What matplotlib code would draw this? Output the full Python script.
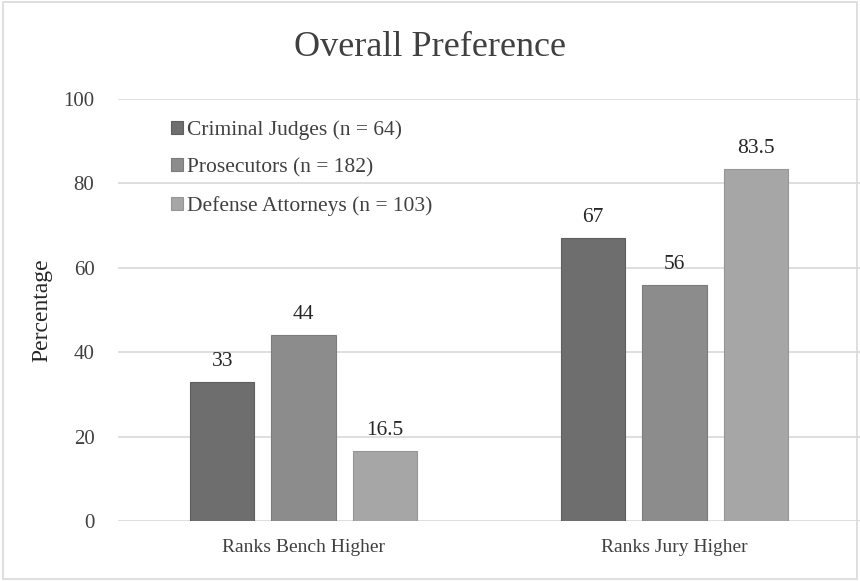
import matplotlib
matplotlib.use("Agg")
import matplotlib.pyplot as plt
from matplotlib.patches import Rectangle
import numpy as np

# data
categories = ["Ranks Bench Higher", "Ranks Jury Higher"]
series = ["Criminal Judges (n = 64)", "Prosecutors (n = 182)", "Defense Attorneys (n = 103)"]
judges = [33, 67]
prosecutors = [44, 56]
defense = [16.5, 83.5]
labels_judges = ["33", "67"]
labels_prosecutors = ["44", "56"]
labels_defense = ["16.5", "83.5"]

colors = ["#6e6e6e", "#8c8c8c", "#a6a6a6"]
edges = ["#5e5e5e", "#7c7c7c", "#969696"]

plt.rcParams['font.family'] = ['Liberation Serif', 'DejaVu Serif']

fig = plt.figure(figsize=(8.6, 5.81), dpi=100)
ax = fig.add_axes([118 / 860, 60 / 581, 742 / 860, 422 / 581])

x = np.arange(len(categories))
width = 0.173
step = 0.219

for i, (vals, labs) in enumerate([(judges, labels_judges),
                                  (prosecutors, labels_prosecutors),
                                  (defense, labels_defense)]):
    pos = x + (i - 1) * step
    ax.bar(pos, vals, width, color=colors[i], edgecolor=edges[i],
           linewidth=0.8, label=series[i], zorder=3)
    for p, v, t in zip(pos, vals, labs):
        ax.text(p, v + 2.6, t, ha='center', va='bottom', fontsize=15.5,
                color='#262626')

ax.set_xlim(-0.5, 1.5)
ax.set_ylim(0, 100)
ax.set_yticks(range(0, 101, 20))
ax.set_xticks(x)
ax.set_xticklabels(categories, fontsize=14, color='#404040')
ax.tick_params(axis='y', labelsize=15, colors='#404040', length=0, pad=17)
ax.tick_params(axis='x', length=0, pad=13)
ax.grid(axis='y', color='#d9d9d9', linewidth=1.2, zorder=0)
ax.set_axisbelow(True)
for s in ax.spines.values():
    s.set_visible(False)

ax.set_ylabel("Percentage", fontsize=17, color='#262626', labelpad=8)

fig.text(0.5, 0.919, "Overall Preference", ha='center', va='center',
         fontsize=26, color='#404040')

leg = ax.legend(loc='upper left', bbox_to_anchor=(0.06, 0.97), frameon=False,
                fontsize=15.5, handlelength=0.55, handleheight=0.55,
                handletextpad=0.2, labelspacing=0.85, borderaxespad=0)
for t in leg.get_texts():
    t.set_color('#404040')

fig.patches.append(Rectangle((0.003, 0.003), 0.994, 0.994, transform=fig.transFigure,
                             fill=False, edgecolor='#d9d9d9', linewidth=1.2))

fig.savefig("out.png", dpi=100)
